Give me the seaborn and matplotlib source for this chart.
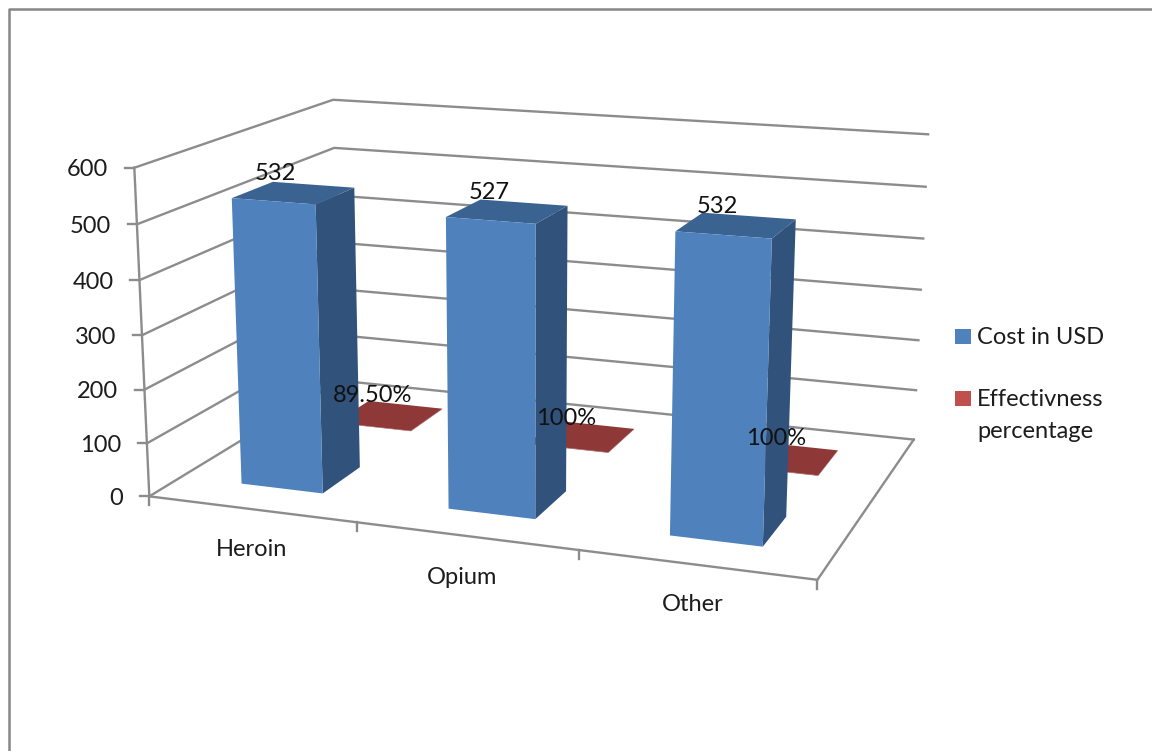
import numpy as np
import pandas as pd
import matplotlib
matplotlib.use("Agg")
import matplotlib.pyplot as plt
from matplotlib.transforms import Transform, Affine2D
from matplotlib.patches import Polygon, Rectangle
import seaborn as sns

# ---- data ----
categories = ["Heroin", "Opium", "Other"]
cost_usd = [532, 527, 532]
effectiveness = [0.895, 1.0, 1.0]
effectiveness_labels = ["89.50%", "100%", "100%"]
series_names = ["Cost in USD", "Effectivness percentage"]
value_ticks = [0, 100, 200, 300, 400, 500, 600]

# ---- style ----
W, H = 1152, 751
FONT = "Lato"
FS = 17
GRID = "#8c8c8c"
TXT = "#1c1c1c"
FACE = {0: ("#4f81bd", "#3a6392", "#31527a"), 1: ("#8e3937", "#8e3937", "#6e2c2a")}
LEGEND_COL = ["#4f81bd", "#c0504d"]
DEPTH = {0: (0.15, 0.35), 1: (0.65, 0.85)}
BAR_W = 0.4
LABEL_OFF = {0: [(-18, -19), (-18, -19), (-19, -19)], 1: [(-17, -20), (-15, -18), (-10, -20)]}
CAT_OFF = [(-105, 27), (-117, 27), (-125, 25)]

# ---- perspective of the 3-D box, calibrated on its corners ----
# box coordinates: category position, depth 0..1, value
calib = [((-.5, 0, 600), (135, 168)), ((-.5, 0, 500), (137, 224)), ((-.5, 0, 400), (139, 280)),
         ((-.5, 0, 300), (141.5, 335)), ((-.5, 0, 200), (144, 389)), ((-.5, 0, 100), (147, 443)),
         ((-.5, 0, 0), (150, 497)), ((-.5, 1, 600), (333, 100)), ((-.5, 1, 500), (334, 148)),
         ((2.5, 1, 600), (928, 134)), ((2.5, 1, 500), (926, 187)), ((2.5, 1, 400), (923, 238.7)),
         ((2.5, 1, 300), (921, 290)), ((2.5, 1, 100), (917, 390)), ((2.5, 1, 0), (913, 439)),
         ((2.5, 0, 0), (817, 580)), ((.5, 0, 0), (357, 523)), ((1.5, 0, 0), (579, 550))]
rows = []
for (x, d, v), (u, w) in calib:
    X = [x, d, v / 600, 1]
    rows.append(X + [0, 0, 0, 0] + [-u * c for c in X])
    rows.append([0, 0, 0, 0] + X + [-w * c for c in X])
PM = np.linalg.svd(np.array(rows))[2][-1].reshape(3, 4)


def project(x, d, v):
    h = PM @ np.array([x, d, v / 600, 1.0])
    return h[0] / h[2], h[1] / h[2]


screen = Affine2D().scale(1, -1).translate(0, H)


class Plane(Transform):
    """(category, value) on a plane of constant depth -> figure pixels."""
    input_dims = output_dims = 2
    is_separable = False
    has_inverse = False

    def __init__(self, plane_depth):
        super().__init__()
        self.plane_depth = plane_depth

    def transform_non_affine(self, values):
        out = [project(x, self.plane_depth, v) for x, v in np.asarray(values)]
        return screen.transform(np.array(out).reshape(-1, 2))


sns.set_theme(style="white")
plt.rcParams["font.family"] = [FONT, "DejaVu Sans"]
fig = plt.figure(figsize=(W / 100, H / 100), dpi=100, facecolor="white")
ax = fig.add_axes([0, 0, 1, 1])

df = pd.DataFrame({
    "Drug": categories * 2,
    "Value": cost_usd + effectiveness,
    "Series": [series_names[0]] * 3 + [series_names[1]] * 3,
})
sns.barplot(data=df, x="Drug", y="Value", hue="Series", dodge=False, width=BAR_W, saturation=1,
            palette=[FACE[0][0], FACE[1][0]], legend=False, errorbar=None, ax=ax)
ax.set_axis_off()


def line(pts, z=1, lw=1.7, c=GRID):
    xs, ys = zip(*pts)
    ax.plot(xs, ys, color=c, lw=lw, transform=screen, zorder=z, clip_on=False,
            solid_capstyle="projecting")


# walls and floor
for v in value_ticks:
    line([project(-.5, 0, v), project(-.5, 1, v), project(2.5, 1, v)])
line([project(-.5, 0, 0), project(2.5, 0, 0), project(2.5, 1, 0)])
line([project(-.5, 0, 0), project(-.5, 0, 600)])
# ticks
for v in value_ticks:
    x, y = project(-.5, 0, v)
    line([(x - 9, y), (x, y)])
    ax.text(x - 26, y + 2, str(v), transform=screen, ha="right", va="center", fontsize=FS, color=TXT, zorder=6)
for p in [-.5, .5, 1.5, 2.5]:
    x, y = project(p, 0, 0)
    line([(x, y), (x, y + 9)])

# bars
for s, cont in enumerate(ax.containers):
    d0, d1 = DEPTH[s]
    z = 3 if s == 0 else 2
    for i, r in enumerate(cont):
        r.set_transform(Plane(d0))
        r.set_clip_on(False)
        r.set_linewidth(0)
        r.set_zorder(z + .2)
        x0, x1, v = r.get_x(), r.get_x() + r.get_width(), r.get_height()
        top = [project(x0, d0, v), project(x1, d0, v), project(x1, d1, v), project(x0, d1, v)]
        side = [project(x1, d0, 0), project(x1, d1, 0), project(x1, d1, v), project(x1, d0, v)]
        for pts, col in ((side, FACE[s][2]), (top, FACE[s][1])):
            ax.add_patch(Polygon(pts, closed=True, fc=col, ec="none", transform=screen,
                                 zorder=z, clip_on=False))
        cx, cy = project(x0 + BAR_W / 2, (d0 + d1) / 2, v)
        label = str(cost_usd[i]) if s == 0 else effectiveness_labels[i]
        dx, dy = LABEL_OFF[s][i]
        ax.text(cx + dx, cy + dy, label, transform=screen, ha="center", va="center",
                fontsize=FS, color="#111111", zorder=7)

# category labels
for i, (name, off) in enumerate(zip(categories, CAT_OFF)):
    x, y = project(i + .5, 0, 0)
    ax.text(x + off[0], y + off[1], name, transform=screen, ha="center", va="center",
            fontsize=FS, color=TXT, zorder=6)

# legend
legend_y = [(329, [338]), (391, [400, 432])]
legend_lines = [[series_names[0]], series_names[1].split(" ")]
for s, (ytop, ys) in enumerate(legend_y):
    ax.add_patch(Rectangle((955, ytop), 16, 15, fc=LEGEND_COL[s], ec="none",
                           transform=screen, clip_on=False))
    for yt, txt in zip(ys, legend_lines[s]):
        ax.text(977, yt, txt, transform=screen, ha="left", va="center", fontsize=FS, color=TXT)

# outer frame
line([(9, H + 5), (9, 9), (W + 5, 9)], lw=1.8, c="#868686")

fig.savefig("out.png", dpi=100)
